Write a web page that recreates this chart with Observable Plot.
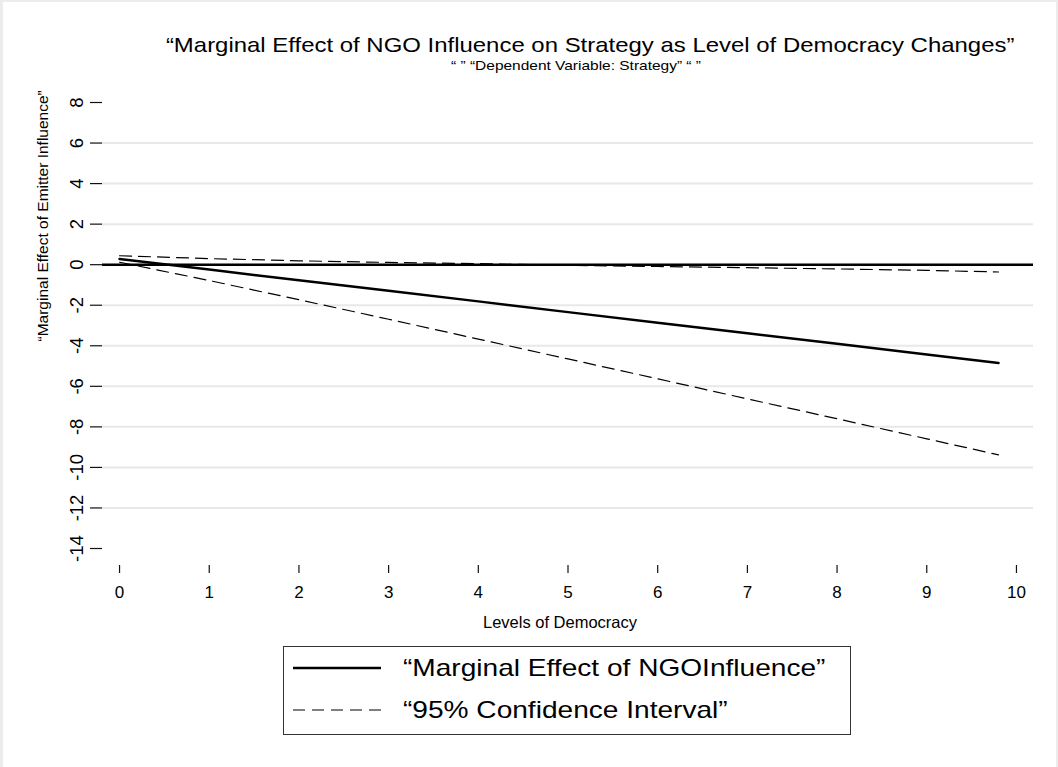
<!DOCTYPE html>
<html>
<head>
<meta charset="utf-8">
<script src="https://cdn.jsdelivr.net/npm/d3@7"></script>
<script src="https://cdn.jsdelivr.net/npm/@observablehq/plot@0.6"></script>
<style>
  html, body { margin: 0; padding: 0; background: #fff; }
  body { width: 1058px; height: 767px; position: relative; overflow: hidden; font-family: "Liberation Sans", Arial, sans-serif; color: #000; }
  #frame { position: absolute; left: 0; top: 0; width: 1058px; height: 767px; box-sizing: border-box;
           border-left: 3px solid #ececec; border-top: 2px solid #ececec; border-right: 2px solid #ececec; pointer-events: none; }
  #title { position: absolute; left: 0; width: 1180px; top: 32px; text-align: center; font-size: 21px; line-height: 26px; white-space: nowrap; }
  #title span { display: inline-block; transform: scaleX(1.14); }
  #subtitle { position: absolute; left: 0; width: 1152px; top: 58px; text-align: center; font-size: 13px; line-height: 16px; white-space: nowrap; }
  #subtitle span { display: inline-block; transform: scaleX(1.19); }
  #chart { position: absolute; left: 0; top: 80px; }
  #legend { position: absolute; left: 283px; top: 646px; width: 568px; height: 89px; box-sizing: border-box; border: 1px solid #333; }
  .lrow { position: absolute; left: 0; height: 34px; display: flex; align-items: center; white-space: nowrap; }
  .lrow svg { margin-left: 9px; }
  .lrow span { margin-left: 22px; font-size: 24px; display: inline-block; transform: scaleX(1.17); transform-origin: left center; }
</style>
</head>
<body>
<div id="title"><span></span></div>
<div id="subtitle"><span></span></div>
<div id="chart"></div>
<div id="legend"></div>
<div id="frame"></div>
<script>
// ---- data ----
const titleText = "\u201cMarginal Effect of NGO Influence on Strategy as Level of Democracy Changes\u201d";
const subtitleText = "\u201c \u201d \u201cDependent Variable: Strategy\u201d \u201c \u201d";
const xTitle = "Levels of Democracy";
const yTitle = "\u201cMarginal Effect of Emitter Influence\u201d";
const legendLabels = ["\u201cMarginal Effect of NGOInfluence\u201d", "\u201c95% Confidence Interval\u201d"];

const xTicks = [0, 1, 2, 3, 4, 5, 6, 7, 8, 9, 10];
const yTicks = [-14, -12, -10, -8, -6, -4, -2, 0, 2, 4, 6, 8];

const democracy = [0, 1, 2, 3, 4, 5, 6, 7, 8, 9, 9.8];
const marginalEffect = [0.28, -0.24, -0.77, -1.29, -1.81, -2.34, -2.86, -3.38, -3.90, -4.43, -4.85];
const ciUpper = [0.44, 0.30, 0.19, 0.11, 0.05, -0.03, -0.09, -0.15, -0.21, -0.28, -0.36];
const ciLower = [0.12, -0.78, -1.73, -2.69, -3.67, -4.65, -5.63, -6.62, -7.60, -8.59, -9.38];

// ---- build ----
document.querySelector("#title span").textContent = titleText;
document.querySelector("#subtitle span").textContent = subtitleText;

const rows = (ys) => democracy.map((x, i) => ({x, y: ys[i]}));
const fontFamily = "Liberation Sans, Arial, sans-serif";

const chart = Plot.plot({
  width: 1058,
  height: 565,
  marginLeft: 102,
  marginRight: 25,
  marginTop: 22,
  marginBottom: 97,
  style: {fontFamily, background: "transparent", overflow: "visible"},
  x: {domain: [-0.19, 10.19], axis: null},
  y: {domain: [-14, 8], axis: null},
  marks: [
    Plot.gridY(yTicks.filter(d => d > -14 && d < 8), {stroke: "#e8e8e8", strokeOpacity: 1, strokeWidth: 2}),
    // y ticks (marks only) and rotated labels
    Plot.axisY({ticks: yTicks, tickSize: 12, tickFormat: () => "", label: null, stroke: "#111", strokeWidth: 1.2}),
    Plot.text(yTicks, {y: d => d, frameAnchor: "left", dx: -25, rotate: -90, text: d => String(d),
      fontSize: 18.5, lineAnchor: "middle", textAnchor: "middle", fill: "#000"}),
    // x ticks (detached below the plot region) and labels
    Plot.axisX({ticks: xTicks, tickSize: 8, dy: 17, tickFormat: () => "", label: null, stroke: "#111", strokeWidth: 1.2}),
    Plot.text(xTicks, {x: d => d, frameAnchor: "bottom", dy: 44, text: d => String(d),
      fontSize: 17, lineAnchor: "middle", fill: "#000"}),
    // axis titles
    Plot.text([xTitle], {frameAnchor: "bottom", dx: -8, dy: 74, text: d => d, fontSize: 16.5, lineAnchor: "middle", fill: "#000"}),
    Plot.text([yTitle], {frameAnchor: "left", dx: -59, dy: 16, rotate: -90, text: d => d, fontSize: 15.5, lineAnchor: "middle", fill: "#000"}),
    // reference line at zero
    Plot.ruleY([0], {stroke: "#000", strokeWidth: 2.6}),
    // series
    Plot.line(rows(ciUpper), {x: "x", y: "y", stroke: "#000", strokeWidth: 1.2, strokeDasharray: "12,7"}),
    Plot.line(rows(ciLower), {x: "x", y: "y", stroke: "#000", strokeWidth: 1.2, strokeDasharray: "12,7"}),
    Plot.line(rows(marginalEffect), {x: "x", y: "y", stroke: "#000", strokeWidth: 2.5})
  ]
});
document.getElementById("chart").appendChild(chart);

// ---- legend ----
const legend = document.getElementById("legend");
const styles = [{dash: null, w: 2.5}, {dash: "12,7", w: 1.2}];
legendLabels.forEach((lab, i) => {
  const row = document.createElement("div");
  row.className = "lrow";
  row.style.top = (i === 0 ? 4 : 46) + "px";
  const svg = d3.create("svg").attr("width", 88).attr("height", 10);
  svg.append("line").attr("x1", 0).attr("x2", 88).attr("y1", 5).attr("y2", 5)
    .attr("stroke", "#000").attr("stroke-width", styles[i].w)
    .attr("stroke-dasharray", styles[i].dash);
  row.appendChild(svg.node());
  const span = document.createElement("span");
  span.textContent = lab;
  row.appendChild(span);
  legend.appendChild(row);
});
</script>
</body>
</html>
